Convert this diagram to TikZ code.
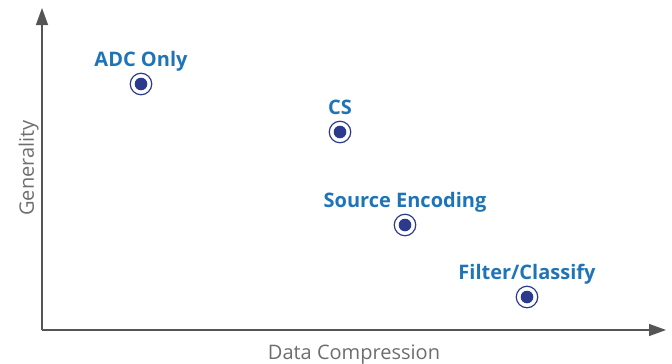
\documentclass[tikz,border=0pt]{standalone}
\usepackage{fontspec}
\setmainfont{Open Sans}
\usetikzlibrary{arrows.meta}
\definecolor{axisgrey}{HTML}{555555}
\definecolor{labelgrey}{HTML}{6E6E6E}
\definecolor{ptnavy}{HTML}{2B3A8C}
\definecolor{ptblue}{HTML}{1F74B8}
\tikzset{
  axis/.style={draw=axisgrey, line width=1.4pt, -{Triangle[length=17pt,width=12pt]}},
  axislabel/.style={text=labelgrey, font=\fontsize{20}{24}\selectfont},
  ptlabel/.style={text=ptblue, font=\fontsize{20}{24}\selectfont\bfseries},
  ring/.style={circle, draw=ptnavy, line width=1.2pt, minimum size=21.5pt, inner sep=0pt},
}
\begin{document}
\begin{tikzpicture}[x=1pt,y=-1pt]
\useasboundingbox (0,0) rectangle (672,364);
% axes
\coordinate (origin) at (42,330);
\coordinate (ytip) at (42,8);
\coordinate (xtip) at (666,330);
\draw[axis] (origin) -- (ytip);
\draw[axis] (origin) -- (xtip);
\node[axislabel, anchor=base, inner sep=0pt] (xlab) at (354,359) {Data Compression};
\node[axislabel, rotate=90, anchor=base, inner sep=0pt] (ylab) at (34,168) {Generality};
% data points
\foreach \name/\px/\py/\txt in {adc/141/84/{ADC Only}, cs/340/132/{CS}, src/405/225/{Source Encoding}, flt/527/297/{Filter/Classify}}{
  \node[ring] (\name) at (\px,\py) {};
  \fill[ptnavy] (\name.center) circle (6.3pt);
  \node[ptlabel, anchor=base] (\name-lab) at (\px,\py-18) {\txt};
}
\end{tikzpicture}
\end{document}
